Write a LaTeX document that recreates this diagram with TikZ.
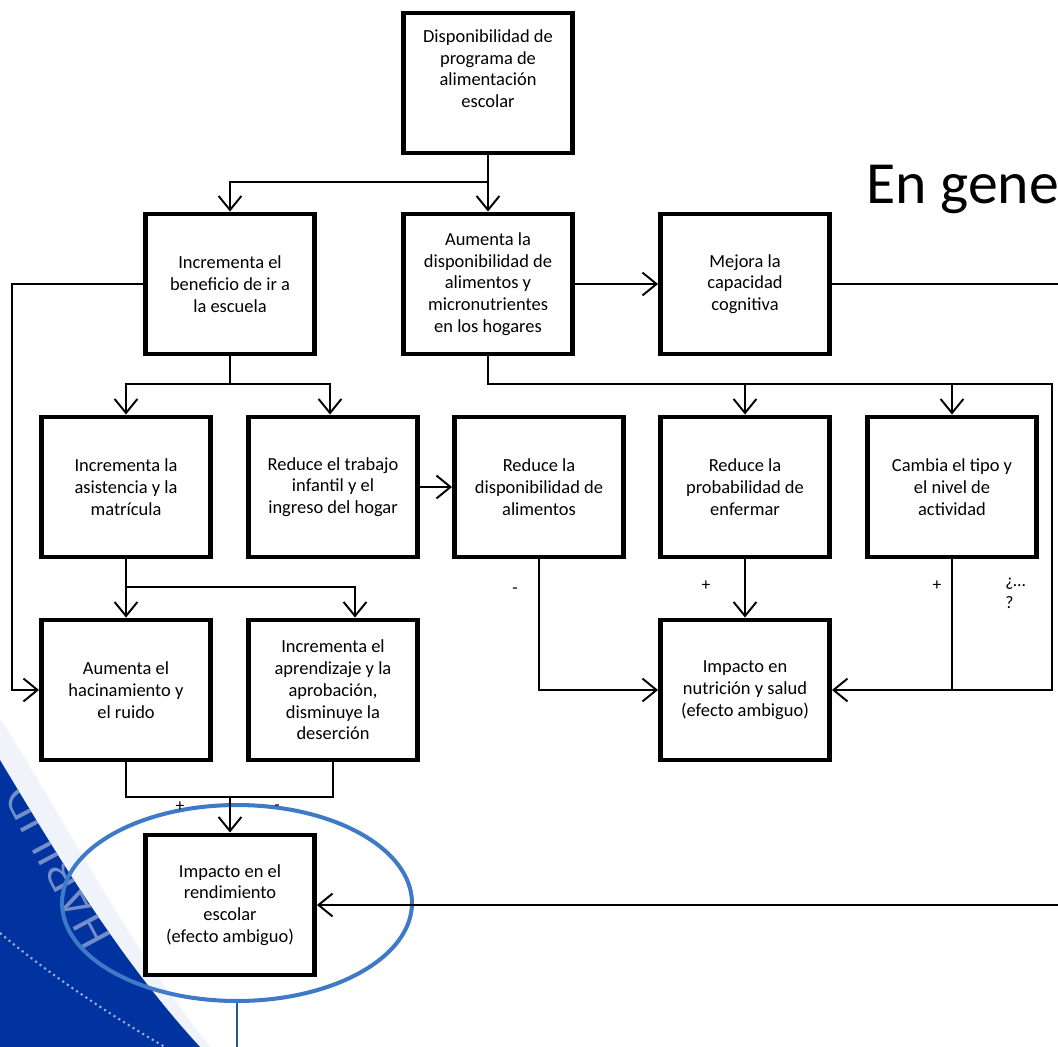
\documentclass[tikz,border=0pt]{standalone}
\usepackage{fontspec}
\setmainfont{Carlito}
\usepackage{tikz}
\usetikzlibrary{arrows.meta,shapes.geometric}

\definecolor{swoosh}{RGB}{0,51,160}
\definecolor{ringblue}{RGB}{62,122,200}
\definecolor{stemblue}{RGB}{43,87,151}

\begin{document}
\begin{tikzpicture}[x=0.02cm, y=-0.02cm,
    box/.style={draw=black, line width=2.8pt, fill=white, minimum width=3.38cm,
        minimum height=2.8cm, align=center, inner sep=2pt,
        font=\fontsize{10.5}{12.4}\selectfont},
    conn/.style={line width=1.1pt},
    arr/.style={conn, -{Straight Barb[length=8pt,width=13pt]}},
    sign/.style={font=\fontsize{10}{12.4}\selectfont, inner sep=0pt}]
    \useasboundingbox (0,0) rectangle (1058,1047);
    \clip (0,0) rectangle (1058,1047);

    % background of the slide
    \fill[swoosh!6] (0,718) .. controls (62,815) and (125,940) .. (210,1047)
        -- (200,1047) .. controls (120,960) and (60,860) .. (0,760) -- cycle;
    \begin{scope}
        \clip (0,760) .. controls (60,860) and (120,960) .. (200,1047) -- (0,1047) -- cycle;
        \fill[swoosh] (0,700) rectangle (220,1047);
        \node (deco) [rotate=118, text=swoosh!55!white, font=\sffamily\fontsize{28}{28}\selectfont]
            at (60,866) {HABILID};
        \draw[white!60!swoosh, line width=1.2pt, dotted] (0,933) .. controls (50,975) and (110,1015) .. (165,1047);
    \end{scope}

    \node (tit) [anchor=base west, font=\fontsize{34}{38}\selectfont, inner sep=0pt]
        at (866,204) {En gene};

    \node (oval) [ellipse, draw=ringblue, line width=2.3pt, minimum width=7cm,
        minimum height=3.92cm] at (237,903) {};
    \coordinate (bot) at (237,1060);
    \draw[stemblue, line width=1.6pt] (oval.south) -- (bot);

    \node (prog) [box] at (488,83) {Disponibilidad de\\programa de\\alimentación\\escolar\\[4pt]\mbox{}};

    \node (benef) [box] at (230,284) {Incrementa el\\beneficio de ir a\\la escuela};
    \node (disp) [box] at (488,284) {Aumenta la\\disponibilidad de\\alimentos y\\micronutrientes\\en los hogares};
    \node (cogn) [box] at (745,284) {Mejora la\\capacidad\\cognitiva};

    \node (asist) [box] at (126,487) {Incrementa la\\asistencia y la\\matrícula};
    \node (trab) [box] at (333,487) {Reduce el trabajo\\infantil y el\\ingreso del hogar};
    \node (redal) [box] at (539,487) {Reduce la\\disponibilidad de\\alimentos};
    \node (enf) [box] at (745,487) {Reduce la\\probabilidad de\\enfermar};
    \node (activ) [box] at (952,487) {Cambia el tipo y\\el nivel de\\actividad};

    \node (hacin) [box] at (126,690) {Aumenta el\\hacinamiento y\\el ruido};
    \node (aprend) [box] at (333,690) {Incrementa el\\aprendizaje y la\\aprobación,\\disminuye la\\deserción};
    \node (nutr) [box] at (745,690) {Impacto en\\nutrición y salud\\(efecto ambiguo)};

    \node (rend) [box] at (230,905) {Impacto en el\\rendimiento\\escolar\\(efecto ambiguo)};

    \coordinate (lft) at (12,284);
    \coordinate (rgt) at (1052,385);
    \coordinate (outA) at (1070,284);
    \coordinate (outB) at (1070,905);
    \coordinate (mrg) at (230,798);

    \draw[arr] (prog.south) -- ++(0,27) -| (benef.north);
    \draw[arr] (prog) -- (disp);
    \draw[arr] (disp) -- (cogn);
    \draw[conn] (cogn.east) -- (outA);

    \draw[arr] (benef.west) -- (lft) |- (hacin.west);
    \draw[arr] (benef.south) -- ++(0,28) -| (asist.north);
    \draw[arr] (benef.south) -- ++(0,28) -| ([xshift=-0.06cm]trab.north);

    \draw[arr] (disp.south) -- ++(0,28) -| (enf.north);
    \draw[arr] (disp.south) -- ++(0,28) -| (activ.north);
    \draw[arr] (disp.south) -- ++(0,28) -| (rgt) |- (nutr.east);

    \draw[arr] (trab) -- (redal);
    \draw[arr] (redal.south) |- (nutr.west);
    \draw[arr] (enf) -- (nutr);
    \draw[conn] (activ.south) -- (activ.south |- nutr.east);

    \draw[arr] (asist.south) -- ++(0,28) -| (hacin.north);
    \draw[arr] (asist.south) -- ++(0,28) -| ([xshift=0.44cm]aprend.north);

    \draw[conn] (hacin.south) -- ++(0,35) -| (aprend.south);
    \draw[arr] (mrg) -- (rend.north);
    \draw[arr] (outB) -- (rend.east);

    % signs on the links
    \node (s1) [sign] at (515,591) {-};
    \node (s2) [sign] at (706,586) {+};
    \node (s3) [sign] at (937,586) {+};
    \node (s4) [sign, align=left, anchor=north west] at (1005,578) {¿…\\?};
    \node (s5) [sign] at (180,807) {+};
    \node (s6) [sign] at (277,808) {-};
\end{tikzpicture}
\end{document}
